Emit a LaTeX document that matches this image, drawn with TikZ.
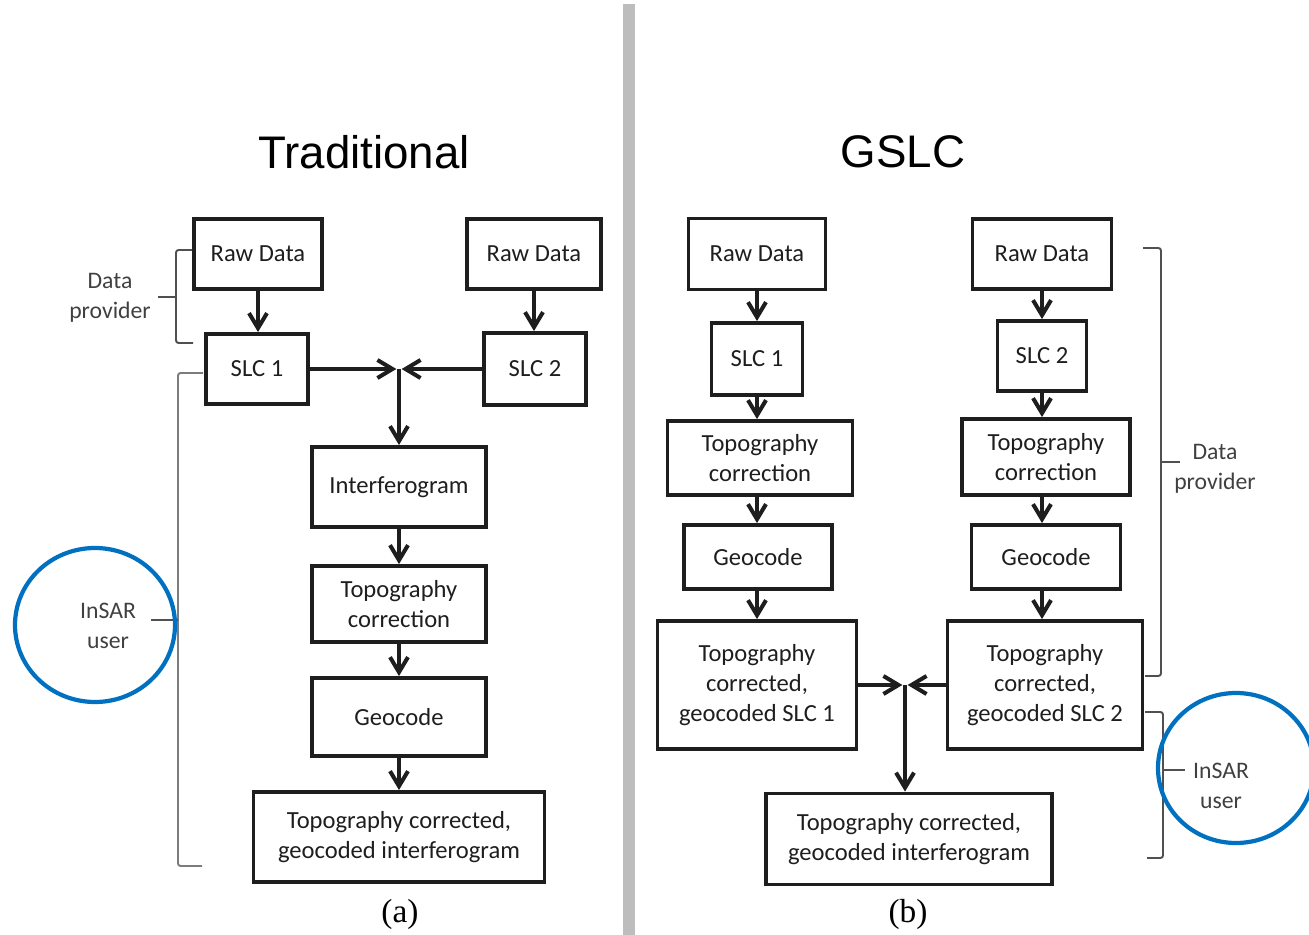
\documentclass[tikz,border=0pt]{standalone}
\usepackage{fontspec}
\setmainfont{Carlito}
\newfontfamily\titlefont{Liberation Sans}
\newfontfamily\capfont{Liberation Serif}
\usetikzlibrary{arrows.meta,calc}
\definecolor{ring}{HTML}{0070C0}
\definecolor{ink}{HTML}{1E1E1E}
\definecolor{brace}{HTML}{505050}
\definecolor{divider}{HTML}{BDBDBD}

\begin{document}
\begin{tikzpicture}[x=0.02cm,y=-0.02cm,>={Straight Barb[length=3mm,width=3.6mm]},
            box/.style={draw=ink,line width=2.2pt,align=center,inner sep=0pt,
                        text=ink,font=\fontsize{14}{17}\selectfont},
            flow/.style={->,draw=ink,line width=2.3pt},
            bracket/.style={draw=brace,line width=1.1pt,rounded corners=1.5pt},
            user/.style={draw=ring,line width=2.4pt},
            note/.style={align=center,text=ink!85,font=\fontsize{13.5}{17}\selectfont}]
  \useasboundingbox (0,0) rectangle (1309,935);
  \fill[divider] (623,4) rectangle (635,935);
  % traditional
  \node[font=\titlefont\fontsize{26}{30}\selectfont] (ttrad) at (364,152) {Traditional};
  \node[box,minimum width=2.56cm,minimum height=1.40cm] (raw1) at (258,254) {Raw Data};
  \node[box,minimum width=2.68cm,minimum height=1.40cm] (raw2) at (534,254) {Raw Data};
  \node[box,minimum width=2.04cm,minimum height=1.40cm] (slc1) at (257,369) {SLC 1};
  \node[box,minimum width=2.04cm,minimum height=1.44cm] (slc2) at (535,369) {SLC 2};
  \coordinate (jl) at (399,369);
  \node[box,minimum width=3.48cm,minimum height=1.60cm] (ifg) at (399,487) {Interferogram};
  \node[box,minimum width=3.48cm,minimum height=1.52cm] (topo) at (399,604) {Topography\\correction};
  \node[box,minimum width=3.48cm,minimum height=1.56cm] (geo) at (399,717) {Geocode};
  \node[box,minimum width=5.82cm,minimum height=1.80cm] (fin) at (399,837) {Topography corrected,\\geocoded interferogram};
  \node[font=\capfont\fontsize{19}{22}\selectfont] (capa) at (400,914) {(a)};
  \draw[flow] (raw1) -- (raw1 |- slc1.north);
  \draw[flow] (raw2) -- (raw2 |- slc2.north);
  \draw[flow,shorten >=1.5pt] (slc1) -- (jl);
  \draw[flow,shorten >=1.5pt] (slc2) -- (jl);
  \draw[flow] (jl) -- (ifg);
  \draw[flow] (ifg) -- (topo);
  \draw[flow] (topo) -- (geo);
  \draw[flow] (geo) -- (fin);
  \draw[bracket] (192,250) -- (176,250) -- (176,343) -- (193,343);
  \draw[bracket] (176,297) -- (158,297);
  \node[note] (dpl) at (110,298) {Data\\provider};
  \draw[bracket,draw=brace!75] (203,373) -- (178,373) -- (178,866) -- (202,866);
  \draw[bracket] (178,620) -- (151,620);
  \node[note] (usl) at (108,626) {InSAR\\user};
  \draw[user] (95,625) ellipse [x radius=80,y radius=77];
  % gslc
  \node[font=\titlefont\fontsize{26}{30}\selectfont] (tgslc) at (903,152) {GSLC};
  \node[box,minimum width=2.74cm,minimum height=1.42cm] (rawa) at (757,254) {Raw Data};
  \node[box,minimum width=2.78cm,minimum height=1.40cm] (rawb) at (1042,254) {Raw Data};
  \node[box,minimum width=1.82cm,minimum height=1.44cm] (slca) at (757,359) {SLC 1};
  \node[box,minimum width=1.78cm,minimum height=1.40cm] (slcb) at (1042,356) {SLC 2};
  \node[box,minimum width=3.70cm,minimum height=1.48cm] (topoa) at (760,458) {Topography\\correction};
  \node[box,minimum width=3.36cm,minimum height=1.52cm] (topob) at (1046,457) {Topography\\correction};
  \node[box,minimum width=2.96cm,minimum height=1.28cm] (geoa) at (758,557) {Geocode};
  \node[box,minimum width=2.98cm,minimum height=1.28cm] (geob) at (1046,557) {Geocode};
  \node[box,minimum width=3.98cm,minimum height=2.56cm] (tcga) at (757,685) {Topography\\corrected,\\geocoded SLC 1};
  \node[box,minimum width=3.90cm,minimum height=2.56cm] (tcgb) at (1045,685) {Topography\\corrected,\\geocoded SLC 2};
  \coordinate (jr) at (905,685);
  \node[box,minimum width=5.72cm,minimum height=1.82cm] (finb) at (909,839) {Topography corrected,\\geocoded interferogram};
  \node[font=\capfont\fontsize{19}{22}\selectfont] (capb) at (908,914) {(b)};
  \draw[flow] (rawa) -- (rawa |- slca.north);
  \draw[flow] (rawb) -- (rawb |- slcb.north);
  \draw[flow] (slca) -- (slca |- topoa.north);
  \draw[flow] (slcb) -- (slcb |- topob.north);
  \draw[flow] (slca |- topoa.south) -- (slca |- geoa.north);
  \draw[flow] (slcb |- topob.south) -- (slcb |- geob.north);
  \draw[flow] (slca |- geoa.south) -- (slca |- tcga.north);
  \draw[flow] (slcb |- geob.south) -- (slcb |- tcgb.north);
  \draw[flow,shorten >=1.5pt] (tcga) -- (jr);
  \draw[flow,shorten >=1.5pt] (tcgb) -- (jr);
  \draw[flow] (jr) -- (jr |- finb.north);
  \draw[bracket] (1143,248) -- (1161,248) -- (1161,676) -- (1145,676);
  \draw[bracket] (1161,462) -- (1180,462);
  \node[note] (dpr) at (1215,469) {Data\\provider};
  \draw[bracket] (1145,712) -- (1163,712) -- (1163,858) -- (1147,858);
  \draw[bracket] (1163,770) -- (1185,770);
  \node[note] (usr) at (1221,786) {InSAR\\user};
  \draw[user] (1236,768) ellipse [x radius=78,y radius=75];
\end{tikzpicture}
\end{document}
